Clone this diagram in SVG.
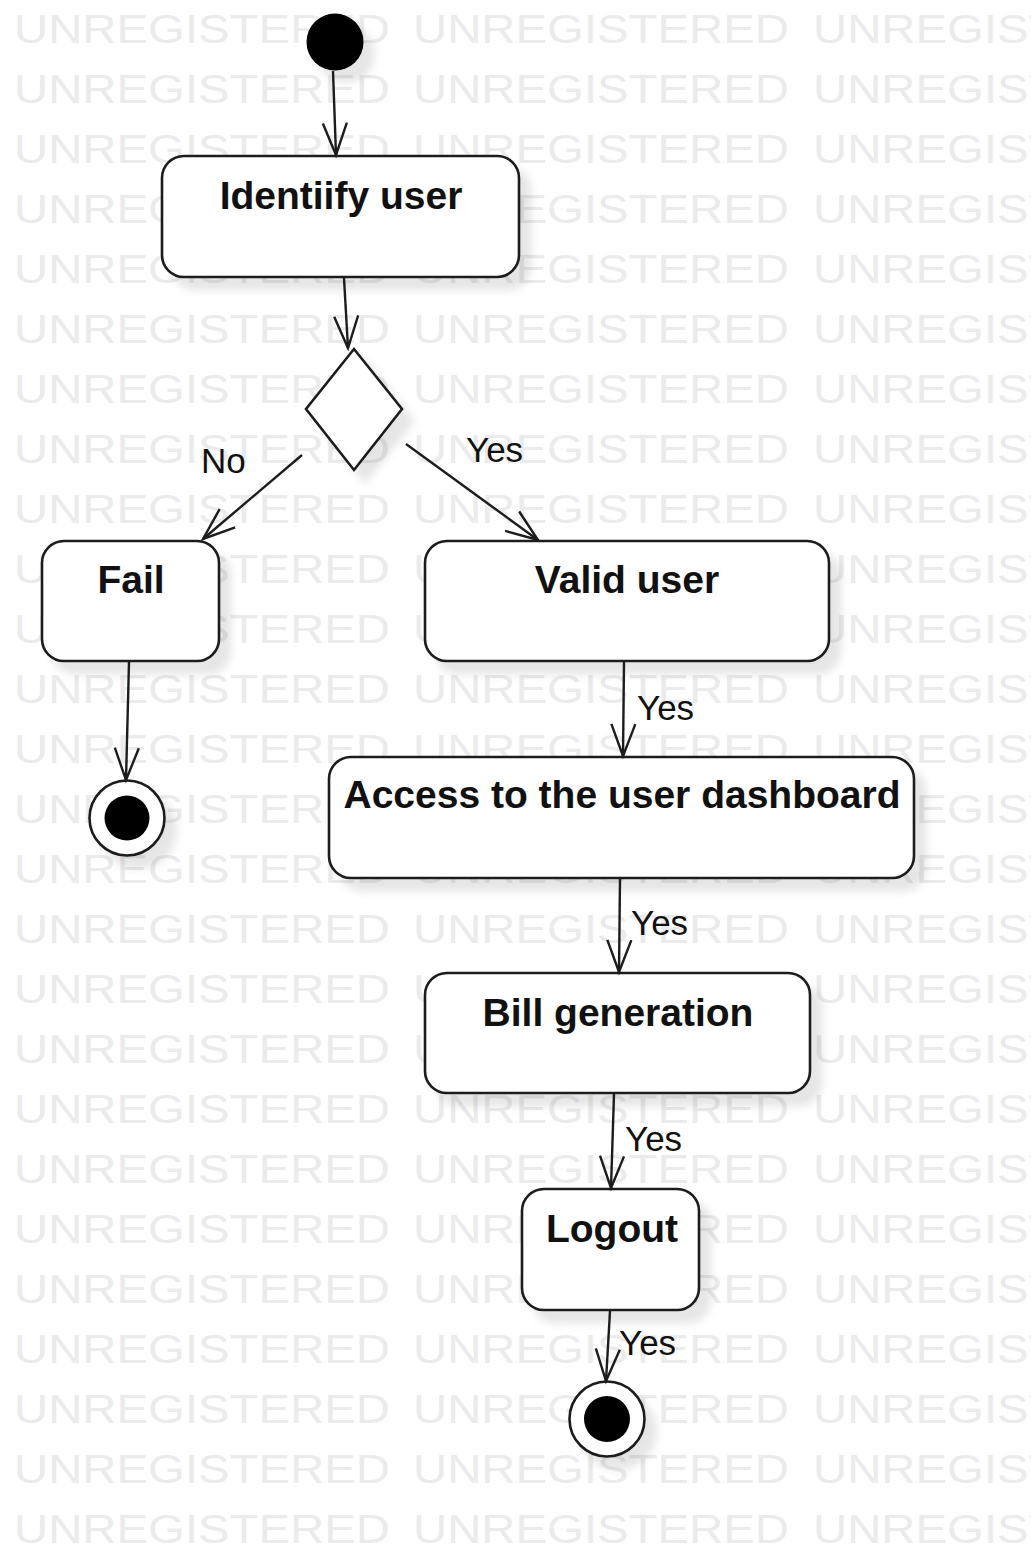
<svg xmlns="http://www.w3.org/2000/svg" xmlns:xlink="http://www.w3.org/1999/xlink" width="1031" height="1547" viewBox="0 0 1031 1547">
<defs>
<style>
.wm{font-family:"Liberation Sans",Arial,sans-serif;font-size:40px;fill:#ebebeb}
.node{fill:#fff;stroke:#1c1c1c;stroke-width:2.6}
.dot{fill:#000}
.lbl{font-family:"Liberation Sans",Arial,sans-serif;font-size:39px;font-weight:bold;fill:#111;text-anchor:middle}
.elbl{font-family:"Liberation Sans",Arial,sans-serif;font-size:35px;fill:#111}
.edge{fill:none;stroke:#1c1c1c;stroke-width:2.4;marker-end:url(#arr)}
</style>
<filter id="sh" x="-20%" y="-20%" width="150%" height="160%">
<feGaussianBlur in="SourceAlpha" stdDeviation="4"/>
<feOffset dx="11" dy="12" result="b"/>
<feFlood flood-color="#000" flood-opacity="0.1"/>
<feComposite in2="b" operator="in"/>
<feMerge><feMergeNode/><feMergeNode in="SourceGraphic"/></feMerge>
</filter>
<marker id="arr" markerUnits="userSpaceOnUse" markerWidth="40" markerHeight="30" viewBox="-36 -15 40 30" refX="0" refY="0" orient="auto">
<path d="M -32 -12 L 0 0 L -32 12" fill="none" stroke="#1c1c1c" stroke-width="2.4"/>
</marker>
<g id="wmrow">
<text class="wm" x="14" y="43" textLength="376" lengthAdjust="spacingAndGlyphs">UNREGISTERED</text>
<text class="wm" x="413" y="43" textLength="376" lengthAdjust="spacingAndGlyphs">UNREGISTERED</text>
<text class="wm" x="813" y="43" textLength="376" lengthAdjust="spacingAndGlyphs">UNREGISTERED</text>
</g>
</defs>
<rect width="1031" height="1547" fill="#fff"/>
<g id="watermark">
<use href="#wmrow" xlink:href="#wmrow" y="0"/>
<use href="#wmrow" xlink:href="#wmrow" y="60"/>
<use href="#wmrow" xlink:href="#wmrow" y="120"/>
<use href="#wmrow" xlink:href="#wmrow" y="180"/>
<use href="#wmrow" xlink:href="#wmrow" y="240"/>
<use href="#wmrow" xlink:href="#wmrow" y="300"/>
<use href="#wmrow" xlink:href="#wmrow" y="360"/>
<use href="#wmrow" xlink:href="#wmrow" y="420"/>
<use href="#wmrow" xlink:href="#wmrow" y="480"/>
<use href="#wmrow" xlink:href="#wmrow" y="540"/>
<use href="#wmrow" xlink:href="#wmrow" y="600"/>
<use href="#wmrow" xlink:href="#wmrow" y="660"/>
<use href="#wmrow" xlink:href="#wmrow" y="720"/>
<use href="#wmrow" xlink:href="#wmrow" y="780"/>
<use href="#wmrow" xlink:href="#wmrow" y="840"/>
<use href="#wmrow" xlink:href="#wmrow" y="900"/>
<use href="#wmrow" xlink:href="#wmrow" y="960"/>
<use href="#wmrow" xlink:href="#wmrow" y="1020"/>
<use href="#wmrow" xlink:href="#wmrow" y="1080"/>
<use href="#wmrow" xlink:href="#wmrow" y="1140"/>
<use href="#wmrow" xlink:href="#wmrow" y="1200"/>
<use href="#wmrow" xlink:href="#wmrow" y="1260"/>
<use href="#wmrow" xlink:href="#wmrow" y="1320"/>
<use href="#wmrow" xlink:href="#wmrow" y="1380"/>
<use href="#wmrow" xlink:href="#wmrow" y="1440"/>
<use href="#wmrow" xlink:href="#wmrow" y="1500"/>
</g>

<g id="start">
<circle class="dot" cx="335" cy="42" r="28.5" filter="url(#sh)"/>
</g>
<g id="identify">
<rect class="node" x="162" y="156" width="357" height="121" rx="22" filter="url(#sh)"/>
<text class="lbl" x="341" y="209">Identiify user</text>
</g>
<g id="decision">
<polygon class="node" points="354,349 402,409 354,470 306,409" filter="url(#sh)"/>
</g>
<g id="fail">
<rect class="node" x="42" y="541" width="177" height="120" rx="22" filter="url(#sh)"/>
<text class="lbl" x="131" y="593">Fail</text>
</g>
<g id="end1">
<circle class="node" cx="127" cy="818" r="37.5" filter="url(#sh)"/>
<circle class="dot" cx="127" cy="818" r="22.5"/>
</g>
<g id="valid">
<rect class="node" x="425" y="541" width="404" height="120" rx="22" filter="url(#sh)"/>
<text class="lbl" x="627" y="593">Valid user</text>
</g>
<g id="access">
<rect class="node" x="329" y="757" width="585" height="121" rx="22" filter="url(#sh)"/>
<text class="lbl" x="622" y="808">Access to the user dashboard</text>
</g>
<g id="bill">
<rect class="node" x="425" y="973" width="385" height="120" rx="22" filter="url(#sh)"/>
<text class="lbl" x="618" y="1026">Bill generation</text>
</g>
<g id="logout">
<rect class="node" x="522" y="1189" width="177" height="121" rx="22" filter="url(#sh)"/>
<text class="lbl" x="612" y="1242">Logout</text>
</g>
<g id="end2">
<circle class="node" cx="607" cy="1419" r="37.5" filter="url(#sh)"/>
<circle class="dot" cx="607" cy="1419" r="23"/>
</g>

<g id="connectors">
<path class="edge" d="M 333 71 L 336 155"/>
<path class="edge" d="M 344 278 L 348 348"/>
<path class="edge" d="M 302 455 L 203 539"/>
<path class="edge" d="M 406 444 L 538 540"/>
<path class="edge" d="M 129 662 L 126 780"/>
<path class="edge" d="M 624 662 L 623 756"/>
<path class="edge" d="M 620 879 L 619 972"/>
<path class="edge" d="M 614 1094 L 611 1188"/>
<path class="edge" d="M 610 1311 L 606 1381"/>
<text class="elbl" x="201" y="473">No</text>
<text class="elbl" x="466" y="462">Yes</text>
<text class="elbl" x="637" y="720">Yes</text>
<text class="elbl" x="631" y="935">Yes</text>
<text class="elbl" x="625" y="1151">Yes</text>
<text class="elbl" x="619" y="1355">Yes</text>
</g>
</svg>
